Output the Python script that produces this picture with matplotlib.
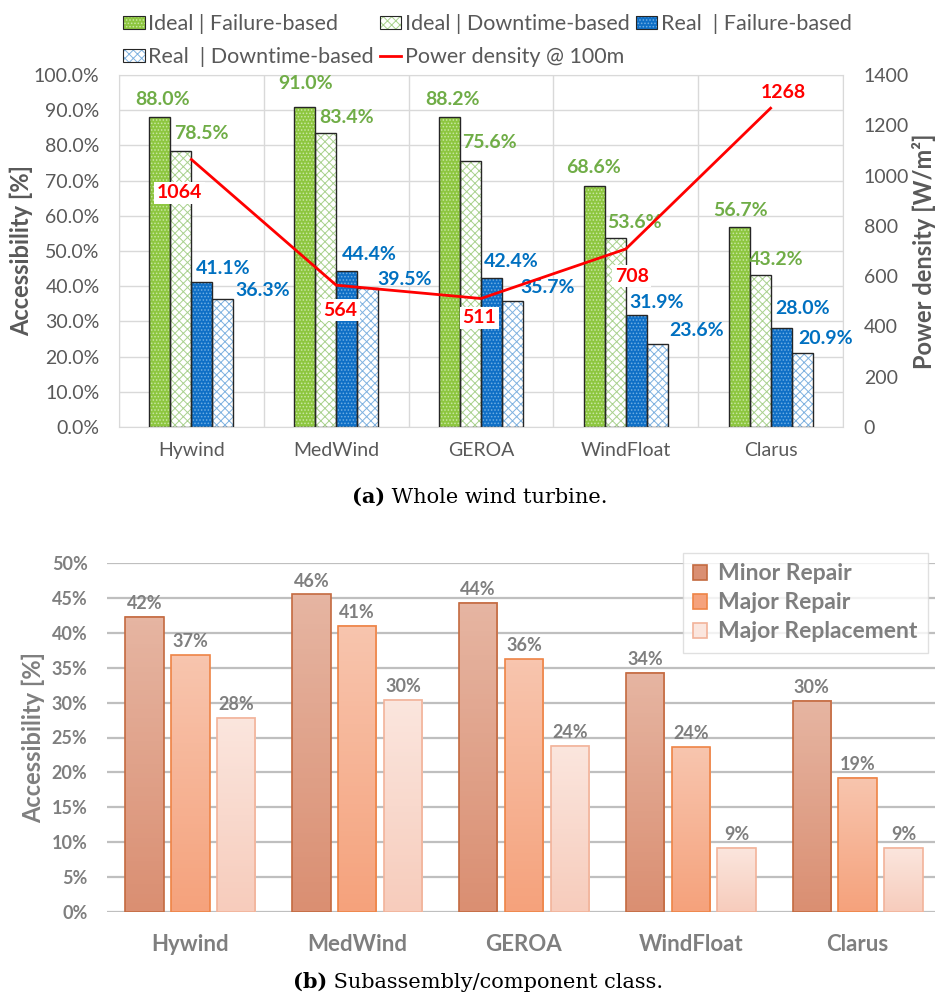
import numpy as np
import matplotlib
matplotlib.use('Agg')
import matplotlib.pyplot as plt
from matplotlib.patches import Patch
from matplotlib.lines import Line2D
from matplotlib.legend_handler import HandlerTuple
from matplotlib.colors import LinearSegmentedColormap

plt.rcParams['font.family'] = ['Lato', 'DejaVu Sans']
plt.rcParams['hatch.linewidth'] = 0.7

# ---- data ----
sites = ['Hywind', 'MedWind', 'GEROA', 'WindFloat', 'Clarus']

ideal_fail = [88.0, 91.0, 88.2, 68.6, 56.7]
ideal_down = [78.5, 83.4, 75.6, 53.6, 43.2]
real_fail = [41.1, 44.4, 42.4, 31.9, 28.0]
real_down = [36.3, 39.5, 35.7, 23.6, 20.9]
power = [1064, 564, 511, 708, 1268]

minor_repair = [42.3, 45.5, 44.3, 34.3, 30.3]
major_repair = [36.8, 41.0, 36.2, 23.6, 19.2]
major_replace = [27.8, 30.4, 23.8, 9.2, 9.2]

GRAY = '#595959'
GRAY2 = '#7F7F7F'
GREEN_TXT = '#70AD47'
BLUE_TXT = '#0070C0'

fig = plt.figure(figsize=(9.35, 9.97), dpi=100)

# ---------------- (a) whole turbine ----------------
ax = fig.add_axes([119/935, 1-427/997, 724/935, 352/997])
ax2 = ax.twinx()

x = np.arange(len(sites))
w = 0.145
offs = [-1.5*w, -0.5*w, 0.5*w, 1.5*w]
styles = [
    (ideal_fail, '#8DC63F', '#C9E7A4', '.....'),
    (ideal_down, 'white', '#A9D18E', 'xxxx'),
    (real_fail, '#0F6FC6', '#6FAEE3', '.....'),
    (real_down, 'white', '#7FB2E0', 'xxxx'),
]
handles = []
for (vals, fc, hc, h), o in zip(styles, offs):
    ax.bar(x + o, vals, w, color=fc, edgecolor=hc, hatch=h, linewidth=0, zorder=2)
    ax.bar(x + o, vals, w, fill=False, edgecolor='#262626', linewidth=1.0, zorder=3)
    handles.append((Patch(facecolor=fc, edgecolor=hc, hatch=h, linewidth=0),
                    Patch(fill=False, edgecolor='#262626', linewidth=0.8)))

ax.set_xlim(-0.5, len(sites) - 0.5)
ax.set_ylim(0, 100)
ax.set_yticks(np.arange(0, 101, 10))
ax.set_yticklabels([f'{v:.1f}%' for v in np.arange(0, 101, 10)])
ax.set_xticks(x)
ax.set_xticklabels(sites)
ax.set_xticks(np.arange(-0.5, len(sites), 1), minor=True)
ax.set_axisbelow(True)
ax.yaxis.grid(True, color='#D9D9D9', linewidth=1.0)
ax.xaxis.grid(True, which='minor', color='#D9D9D9', linewidth=1.0)
ax.tick_params(which='both', length=0, colors=GRAY, labelsize=14)
ax.tick_params(axis='x', pad=11)
ax.tick_params(axis='y', pad=14)
for s in ax.spines.values():
    s.set_color('#D9D9D9')
ax.set_ylabel('Accessibility [%]', fontsize=17, fontweight='bold', color=GRAY)
ax.yaxis.set_label_coords(-0.119, 0.5)

# accessibility labels (manual placement like the original)
lab_pos = {
    'if': [(-0.20, 92.9), (0.79, 97.7), (1.80, 92.9), (2.78, 73.6), (3.79, 61.4)],
    'id': [(0.07, 83.5), (1.07, 87.8), (2.06, 80.7), (3.06, 58.2), (4.04, 47.7)],
    'rf': [(0.22, 44.9), (1.23, 48.9), (2.21, 46.9), (3.21, 35.5), (4.22, 33.8)],
    'rd': [(0.49, 38.9), (1.47, 41.8), (2.46, 39.5), (3.49, 27.3), (4.38, 25.0)],
}
for key, vals, col in [('if', ideal_fail, GREEN_TXT), ('id', ideal_down, GREEN_TXT),
                       ('rf', real_fail, BLUE_TXT), ('rd', real_down, BLUE_TXT)]:
    for (px, py), v in zip(lab_pos[key], vals):
        ax.text(px, py, f'{v:.1f}%', ha='center', va='center', fontsize=14,
                fontweight='bold', color=col, zorder=4)

ax2.plot(x, power, color='#FF0000', linewidth=2, zorder=5)
ax2.set_ylim(0, 1400)
ax2.set_yticks(np.arange(0, 1401, 200))
ax2.tick_params(length=0, colors=GRAY, labelsize=14, pad=15)
for s in ax2.spines.values():
    s.set_visible(False)
ax2.set_ylabel('Power density [W/m²]', fontsize=17, fontweight='bold', color=GRAY)
ax2.yaxis.set_label_coords(1.095, 0.5)
pd_pos = [(-0.08, 931), (1.03, 465), (1.99, 434), (3.04, 600), (4.09, 1332)]
for (px, py), v in zip(pd_pos, power):
    ax2.text(px, py, f'{v}', ha='center', va='center', fontsize=14, fontweight='bold',
             color='#FF0000', zorder=6,
             bbox=dict(facecolor='white', edgecolor='none', pad=2))

leg_labels = ['Ideal | Failure-based', 'Ideal | Downtime-based', 'Real  | Failure-based',
              'Real  | Downtime-based', 'Power density @ 100m']
line_h = Line2D([0], [0], color='#FF0000', linewidth=2)
all_h = handles + [line_h]
order = [0, 3, 1, 4, 2]
fig.legend([all_h[i] for i in order], [leg_labels[i] for i in order], ncol=3,
           loc='upper left', bbox_to_anchor=(123/935, 1-14/997), frameon=False,
           borderpad=0, borderaxespad=0,
           fontsize=15.5, labelcolor=GRAY, handlelength=1.0, handleheight=0.55,
           handletextpad=0.15, columnspacing=0.3, labelspacing=0.62,
           handler_map={tuple: HandlerTuple(ndivide=1, pad=0)})

cap_a = fig.text(352/935, 1-497/997, '(a)', fontsize=15, fontweight='bold',
                 family='DejaVu Serif', va='center')
ax.annotate(' Whole wind turbine.', xy=(1, 0.5), xycoords=cap_a, va='center',
            fontsize=15, family='DejaVu Serif', annotation_clip=False)

# ---------------- (b) subassembly ----------------
ax3 = fig.add_axes([107/935, 1-912/997, 834/935, 349/997])
bw = 0.23
boffs = [-0.275, 0.0, 0.275]
bstyles = [
    (minor_repair, '#E6B5A2', '#DA8F72', '#C46A40', 'Minor Repair'),
    (major_repair, '#F8C5AE', '#F5A27C', '#EE8446', 'Major Repair'),
    (major_replace, '#FBE6DE', '#F7CCBC', '#F2B39A', 'Major Replacement'),
]
g = np.linspace(0, 1, 64).reshape(-1, 1)
bhandles = []
for (vals, top, bot, edge, name), o in zip(bstyles, boffs):
    cmap = LinearSegmentedColormap.from_list(name, [bot, top])
    for xi, v in zip(x, vals):
        ax3.imshow(g, extent=(xi + o - bw/2, xi + o + bw/2, 0, v), origin='lower',
                   cmap=cmap, aspect='auto', zorder=2)
        ax3.text(xi + o, v + 0.7, f'{v:.0f}%', ha='center', va='bottom', fontsize=13,
                 fontweight='bold', color=GRAY2)
    ax3.bar(x + o, vals, bw, fill=False, edgecolor=edge, linewidth=1.2, zorder=3)
    bhandles.append(Patch(facecolor=(top if name == 'Major Replacement' else bot),
                          edgecolor=edge, linewidth=1.2, label=name))

ax3.set_xlim(-0.5, len(sites) - 0.5)
ax3.set_ylim(0, 50)
ax3.set_yticks(np.arange(0, 51, 5))
ax3.set_yticklabels([f'{v}%' for v in range(0, 51, 5)])
ax3.set_xticks(x)
ax3.set_xticklabels(sites)
ax3.set_axisbelow(True)
ax3.yaxis.grid(True, color='#BFBFBF', linewidth=1.6)
for s in ax3.spines.values():
    s.set_visible(False)
ax3.tick_params(length=0, colors=GRAY2, labelsize=13)
ax3.tick_params(axis='y', pad=14)
ax3.tick_params(axis='x', pad=16, labelsize=16)
for t in ax3.get_xticklabels() + ax3.get_yticklabels():
    t.set_fontweight('bold')
ax3.set_ylabel('Accessibility [%]', fontsize=17, fontweight='bold', color=GRAY2)
ax3.yaxis.set_label_coords(-0.074, 0.5)

leg = ax3.legend(handles=bhandles, loc='upper right', bbox_to_anchor=(928/935, 1-553/997),
                 bbox_transform=fig.transFigure, fontsize=16.5, frameon=True, fancybox=False,
                 edgecolor='#D9D9D9', handlelength=0.6, handleheight=0.6,
                 handletextpad=0.5, labelspacing=0.35, borderpad=0.45, borderaxespad=0)
leg.get_frame().set_linewidth(1.0)
for t in leg.get_texts():
    t.set_color(GRAY2)
    t.set_fontweight('bold')

cap_b = fig.text(293/935, 1-982/997, '(b)', fontsize=15, fontweight='bold',
                 family='DejaVu Serif', va='center')
ax3.annotate(' Subassembly/component class.', xy=(1, 0.5), xycoords=cap_b, va='center',
             fontsize=15, family='DejaVu Serif', annotation_clip=False)

fig.savefig('out.png', dpi=100)
